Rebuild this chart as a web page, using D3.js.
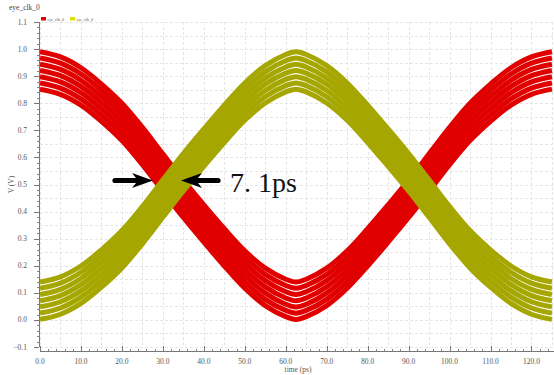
<!DOCTYPE html>
<html>
<head>
<meta charset="utf-8">
<script src="https://cdn.jsdelivr.net/npm/d3@7"></script>
<style>
html,body{margin:0;padding:0;background:#fff;}
svg{display:block;}
text{font-family:"Liberation Serif","DejaVu Serif",serif;}
</style>
</head>
<body>
<svg id="chart" width="554" height="375"></svg>
<script>
// ---- data ----
const chartTitle = "eye_clk_0";
const seriesNames = ["eye_clk_0", "eye_clk_0"];
const xLabel = "time (ps)";
const yLabel = "V (V)";
const annotationText = "7. 1ps";
const times = [0,5,10,15,20,25,30,35,40,45,50,55,60,62.5,65,70,75,80,85,90,95,100,105,110,115,120,125];
const xTicks = [0,10,20,30,40,50,60,70,80,90,100,110,120];
const yTicks = [-0.1,0,0.1,0.2,0.3,0.4,0.5,0.6,0.7,0.8,0.9,1.0,1.1];

const redTrace1 = [0.990,0.971,0.931,0.871,0.800,0.711,0.613,0.516,0.425,0.337,0.255,0.191,0.150,0.140,0.150,0.191,0.255,0.337,0.425,0.516,0.613,0.711,0.800,0.871,0.931,0.971,0.990];
const redTrace2 = [0.967,0.948,0.908,0.848,0.777,0.688,0.590,0.493,0.402,0.314,0.232,0.168,0.127,0.117,0.127,0.168,0.232,0.314,0.402,0.493,0.590,0.688,0.777,0.848,0.908,0.948,0.967];
const redTrace3 = [0.944,0.925,0.885,0.825,0.754,0.665,0.567,0.470,0.379,0.291,0.209,0.145,0.104,0.094,0.104,0.145,0.209,0.291,0.379,0.470,0.567,0.665,0.754,0.825,0.885,0.925,0.944];
const redTrace4 = [0.921,0.902,0.862,0.802,0.731,0.642,0.544,0.447,0.356,0.268,0.186,0.122,0.081,0.071,0.081,0.122,0.186,0.268,0.356,0.447,0.544,0.642,0.731,0.802,0.862,0.902,0.921];
const redTrace5 = [0.898,0.879,0.839,0.779,0.708,0.619,0.521,0.424,0.333,0.245,0.163,0.099,0.058,0.048,0.058,0.099,0.163,0.245,0.333,0.424,0.521,0.619,0.708,0.779,0.839,0.879,0.898];
const redTrace6 = [0.875,0.856,0.816,0.756,0.685,0.596,0.498,0.401,0.310,0.222,0.140,0.076,0.035,0.025,0.035,0.076,0.140,0.222,0.310,0.401,0.498,0.596,0.685,0.756,0.816,0.856,0.875];
const redTrace7 = [0.852,0.833,0.793,0.733,0.662,0.573,0.475,0.378,0.287,0.199,0.117,0.053,0.012,0.002,0.012,0.053,0.117,0.199,0.287,0.378,0.475,0.573,0.662,0.733,0.793,0.833,0.852];

const yelTrace1 = [0.140,0.159,0.199,0.259,0.330,0.419,0.517,0.614,0.705,0.793,0.875,0.939,0.980,0.990,0.980,0.939,0.875,0.793,0.705,0.614,0.517,0.419,0.330,0.259,0.199,0.159,0.140];
const yelTrace2 = [0.117,0.136,0.176,0.236,0.307,0.396,0.494,0.591,0.682,0.770,0.852,0.916,0.957,0.967,0.957,0.916,0.852,0.770,0.682,0.591,0.494,0.396,0.307,0.236,0.176,0.136,0.117];
const yelTrace3 = [0.094,0.113,0.153,0.213,0.284,0.373,0.471,0.568,0.659,0.747,0.829,0.893,0.934,0.944,0.934,0.893,0.829,0.747,0.659,0.568,0.471,0.373,0.284,0.213,0.153,0.113,0.094];
const yelTrace4 = [0.071,0.090,0.130,0.190,0.261,0.350,0.448,0.545,0.636,0.724,0.806,0.870,0.911,0.921,0.911,0.870,0.806,0.724,0.636,0.545,0.448,0.350,0.261,0.190,0.130,0.090,0.071];
const yelTrace5 = [0.048,0.067,0.107,0.167,0.238,0.327,0.425,0.522,0.613,0.701,0.783,0.847,0.888,0.898,0.888,0.847,0.783,0.701,0.613,0.522,0.425,0.327,0.238,0.167,0.107,0.067,0.048];
const yelTrace6 = [0.025,0.044,0.084,0.144,0.215,0.304,0.402,0.499,0.590,0.678,0.760,0.824,0.865,0.875,0.865,0.824,0.760,0.678,0.590,0.499,0.402,0.304,0.215,0.144,0.084,0.044,0.025];
const yelTrace7 = [0.002,0.021,0.061,0.121,0.192,0.281,0.379,0.476,0.567,0.655,0.737,0.801,0.842,0.852,0.842,0.801,0.737,0.655,0.567,0.476,0.379,0.281,0.192,0.121,0.061,0.021,0.002];

const redTraces = [redTrace1, redTrace2, redTrace3, redTrace4, redTrace5, redTrace6, redTrace7];
const yelTraces = [yelTrace1, yelTrace2, yelTrace3, yelTrace4, yelTrace5, yelTrace6, yelTrace7];

// ---- layout ----
const RED = "#e00000", OLIVE = "#a6a600", LEGEND_YEL = "#dede00";
const plotL = 40, plotR = 554, plotT = 22, plotB = 347;
const svg = d3.select("#chart");
const x = d3.scaleLinear().domain([0, 125.5]).range([plotL, plotR]);
const y = d3.scaleLinear().domain([-0.1, 1.1]).range([plotB, plotT]);

// grid
const g = svg.append("g");
const gridX = d3.range(0, 126, 5);
const gridY = d3.range(-0.1, 1.1001, 0.05);
g.selectAll(".gx").data(gridX).join("line")
  .attr("x1", d => Math.round(x(d)) + 0.5).attr("x2", d => Math.round(x(d)) + 0.5)
  .attr("y1", plotT).attr("y2", plotB)
  .attr("stroke", "#e6e6e6").attr("stroke-width", 1).attr("stroke-dasharray", "3,2");
g.selectAll(".gy").data(gridY).join("line")
  .attr("x1", plotL).attr("x2", plotR)
  .attr("y1", d => Math.round(y(d)) + 0.5).attr("y2", d => Math.round(y(d)) + 0.5)
  .attr("stroke", "#e6e6e6").attr("stroke-width", 1).attr("stroke-dasharray", "3,2");

// clip
svg.append("clipPath").attr("id", "clip").append("rect")
  .attr("x", plotL).attr("y", plotT).attr("width", plotR - plotL).attr("height", plotB - plotT);

const line = d3.line()
  .x((d, i) => x(times[i]))
  .y(d => y(d))
  .curve(d3.curveCatmullRom.alpha(0.5));

const traces = svg.append("g").attr("clip-path", "url(#clip)");
traces.selectAll(".red").data(redTraces).join("path")
  .attr("d", line).attr("fill", "none").attr("stroke", RED).attr("stroke-width", 5);
traces.selectAll(".yel").data(yelTraces).join("path")
  .attr("d", line).attr("fill", "none").attr("stroke", OLIVE).attr("stroke-width", 5);

// y axis
const yAxisX = 39;
const ax = svg.append("g").attr("fill", "#555").attr("font-size", 7.5);
ax.append("line").attr("x1", yAxisX + 0.5).attr("x2", yAxisX + 0.5)
  .attr("y1", y(1.1)).attr("y2", y(-0.1)).attr("stroke", "#777");
const yMinor = d3.range(-0.1, 1.1001, 0.02);
ax.selectAll(".ymin").data(yMinor).join("line")
  .attr("x1", yAxisX - 2).attr("x2", yAxisX)
  .attr("y1", d => Math.round(y(d)) + 0.5).attr("y2", d => Math.round(y(d)) + 0.5)
  .attr("stroke", "#888");
ax.selectAll(".ymaj").data(yTicks).join("line")
  .attr("x1", yAxisX - 5).attr("x2", yAxisX)
  .attr("y1", d => Math.round(y(d)) + 0.5).attr("y2", d => Math.round(y(d)) + 0.5)
  .attr("stroke", "#777");
ax.selectAll(".ylab").data(yTicks).join("text")
  .attr("x", 27).attr("y", d => y(d) + 2.5)
  .attr("text-anchor", "end")
  .text(d => d3.format(".1f")(d));
ax.append("text").attr("transform", `translate(14,${y(0.5)}) rotate(-90)`)
  .attr("text-anchor", "middle").text(yLabel);

// x axis
const xAxisY = 351;
ax.append("line").attr("x1", x(0)).attr("x2", plotR)
  .attr("y1", xAxisY + 0.5).attr("y2", xAxisY + 0.5).attr("stroke", "#777");
const xMinor = d3.range(0, 125.6, 2);
ax.selectAll(".xmin").data(xMinor).join("line")
  .attr("x1", d => Math.round(x(d)) + 0.5).attr("x2", d => Math.round(x(d)) + 0.5)
  .attr("y1", xAxisY - 2).attr("y2", xAxisY).attr("stroke", "#888");
ax.selectAll(".xmaj").data(xTicks).join("line")
  .attr("x1", d => Math.round(x(d)) + 0.5).attr("x2", d => Math.round(x(d)) + 0.5)
  .attr("y1", xAxisY - 5).attr("y2", xAxisY).attr("stroke", "#777");
ax.selectAll(".xlab").data(xTicks).join("text")
  .attr("x", d => x(d)).attr("y", 364)
  .attr("text-anchor", "middle")
  .text(d => d3.format(".1f")(d));
ax.append("text").attr("x", 298).attr("y", 372).attr("text-anchor", "middle").text(xLabel);

// title
svg.append("text").attr("x", 9).attr("y", 10).attr("font-size", 7.5).attr("fill", "#444").text(chartTitle);

// legend
const legColors = [RED, LEGEND_YEL];
const leg = svg.append("g");
seriesNames.forEach((n, i) => {
  const lx = 41 + i * 29;
  leg.append("rect").attr("x", lx).attr("y", 17).attr("width", 5).attr("height", 3.5).attr("fill", legColors[i]);
  leg.append("text").attr("x", lx + 6.5).attr("y", 20.5).attr("font-size", 4).attr("fill", "#555").text(n);
});

// annotation arrows
const ann = svg.append("g").attr("fill", "#000");
const ay = 180.5;
function arrow(tipX, tailX) {
  const dir = Math.sign(tailX - tipX);
  const headLen = 18, half = 7.5, sh = 2.6;
  const bx = tipX + dir * headLen;
  const p = d3.path();
  p.moveTo(tipX, ay);
  p.lineTo(bx + dir * 3, ay - half);
  p.lineTo(bx - dir * 1, ay - sh);
  p.lineTo(tailX, ay - sh);
  p.lineTo(tailX, ay + sh);
  p.lineTo(bx - dir * 1, ay + sh);
  p.lineTo(bx + dir * 3, ay + half);
  p.closePath();
  ann.append("path").attr("d", p.toString());
  ann.append("circle").attr("cx", tailX).attr("cy", ay).attr("r", sh);
}
arrow(153, 115);
arrow(181, 218);
svg.append("text").attr("x", 230).attr("y", 192).attr("font-size", 28)
  .attr("fill", "#111").text(annotationText);
</script>
</body>
</html>
